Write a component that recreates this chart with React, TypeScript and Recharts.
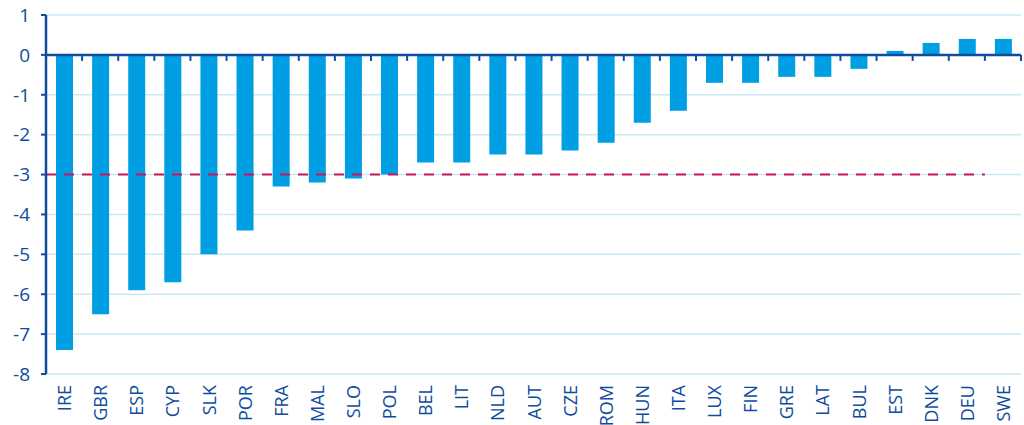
import React from 'react';
import { BarChart, Bar, XAxis, YAxis, CartesianGrid, ReferenceLine } from 'recharts';

const categories = ['IRE','GBR','ESP','CYP','SLK','POR','FRA','MAL','SLO','POL','BEL','LIT','NLD','AUT','CZE','ROM','HUN','ITA','LUX','FIN','GRE','LAT','BUL','EST','DNK','DEU','SWE'];
const values = [-7.4,-6.5,-5.9,-5.7,-5.0,-4.4,-3.3,-3.2,-3.1,-3.0,-2.7,-2.7,-2.5,-2.5,-2.4,-2.2,-1.7,-1.4,-0.7,-0.7,-0.55,-0.55,-0.35,0.1,0.3,0.4,0.4];
const yTicks = [1,0,-1,-2,-3,-4,-5,-6,-7,-8];
const thresholdValue = -3;

const data = categories.map((c, i) => ({ name: c, value: values[i] }));

const AXIS = '#0f4c9e';
const BAR = '#009fe3';
const FONT = '"Open Sans", "DejaVu Sans", sans-serif';

const XTick = (props: any) => {
  const { x, y, payload } = props;
  return (
    <text x={x} y={y} transform={`rotate(-90, ${x}, ${y})`} textAnchor="end" dominantBaseline="central"
      fill={AXIS} fontSize={18} fontFamily={FONT}>
      {payload.value}
    </text>
  );
};

const ZeroAxis = (props: any) => {
  const { x1, x2, y1 } = props;
  const n = categories.length;
  const step = (x2 - x1) / n;
  const ticks = [];
  for (let i = 1; i <= n; i++) {
    const tx = x1 + step * i;
    ticks.push(<line key={i} x1={tx} x2={tx} y1={y1} y2={y1 + 6} stroke={AXIS} strokeWidth={2} />);
  }
  return (
    <g>
      <line x1={x1} x2={x2} y1={y1} y2={y1} stroke={AXIS} strokeWidth={2.5} />
      {ticks}
    </g>
  );
};

const DashedLine = (props: any) => {
  const { x1, x2, y1 } = props;
  const n = categories.length;
  const step = (x2 - x1) / n;
  return <line x1={x1} x2={x2 - step} y1={y1} y2={y1} stroke="#c8175d" strokeWidth={2} strokeDasharray="10 8" />;
};

export default function App() {
  return (
    <div style={{ position: 'absolute', left: 0, top: 0, background: '#fff' }}>
      <BarChart width={1024} height={425} data={data} margin={{ top: 15, right: 3, bottom: 0, left: 0 }} barSize={17}>
        <CartesianGrid horizontal={true} vertical={false} stroke="#c9e9f7" strokeWidth={1.5} />
        <XAxis dataKey="name" height={51} axisLine={false} tickLine={false} tick={<XTick />} interval={0} tickMargin={5} />
        <YAxis width={46} domain={[-8, 1]} ticks={yTicks} interval={0} axisLine={{ stroke: AXIS, strokeWidth: 2.5 }}
          tickLine={{ stroke: AXIS, strokeWidth: 2 }} tickSize={5} tickMargin={11}
          tick={{ fill: AXIS, fontSize: 19, fontFamily: FONT }} />
        <Bar dataKey="value" fill={BAR} isAnimationActive={false} />
        <ReferenceLine y={0} shape={<ZeroAxis />} />
        <ReferenceLine y={thresholdValue} shape={<DashedLine />} />
      </BarChart>
    </div>
  );
}
